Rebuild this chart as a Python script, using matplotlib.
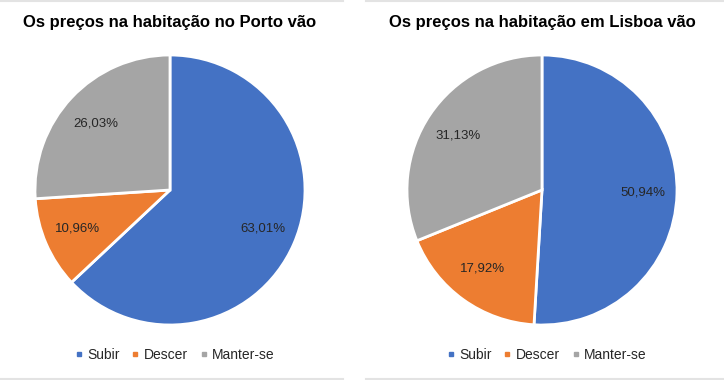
import matplotlib.pyplot as plt
import numpy as np
from matplotlib.lines import Line2D

plt.rcParams['font.family'] = ['Liberation Sans', 'DejaVu Sans']

categorias = ['Subir', 'Descer', 'Manter-se']
cores = ['#4472C4', '#ED7D31', '#A5A5A5']

porto = [63.01, 10.96, 26.03]
lisboa = [50.94, 17.92, 31.13]

titulos = ['Os preços na habitação no Porto vão',
           'Os preços na habitação em Lisboa vão']

W, H = 724, 380
fig = plt.figure(figsize=(W/100, H/100), dpi=100)

# linhas finas das caixas (so em cima e em baixo)
for x0, x1 in [(0, 343), (366, 724)]:
    for yy in [0.5, 378.5]:
        fig.add_artist(Line2D([x0/W, x1/W], [1 - yy/H, 1 - yy/H], color='#E3E3E3',
                              linewidth=1.5, transform=fig.transFigure))

centros = [170, 542]
raio = 135
cy = 190

for k, vals in enumerate([porto, lisboa]):
    cx = centros[k]
    ax = fig.add_axes([(cx-raio)/W, (H-cy-raio)/H, 2*raio/W, 2*raio/H])
    wedges, _ = ax.pie(vals, colors=cores, startangle=90, counterclock=False,
                       wedgeprops=dict(edgecolor='white', linewidth=2), radius=1)
    for w, v in zip(wedges, vals):
        ang = np.deg2rad((w.theta1 + w.theta2) / 2)
        txt = ('%.2f' % v).replace('.', ',') + '%'
        ax.text(0.75*np.cos(ang), 0.72*np.sin(ang), txt, ha='center', va='center',
                fontsize=9.5, color='#262626')
    ax.set_xlim(-1, 1)
    ax.set_ylim(-1, 1)
    ax.set_aspect('equal')
    ax.axis('off')

    fig.text(cx/W, 1 - 22/H, titulos[k], ha='center', va='center',
             fontsize=12, fontweight='bold', color='black')

    handles = [Line2D([], [], marker='s', linestyle='none', markersize=3.2,
                      color=c) for c in cores]
    fig.legend(handles, categorias, loc='center', bbox_to_anchor=((cx+5)/W, 1 - 355/H),
               ncol=3, frameon=False, fontsize=10, handlelength=0.5,
               handletextpad=0.35, columnspacing=0.9, labelcolor='#262626')

fig.savefig('out.png', dpi=100)
